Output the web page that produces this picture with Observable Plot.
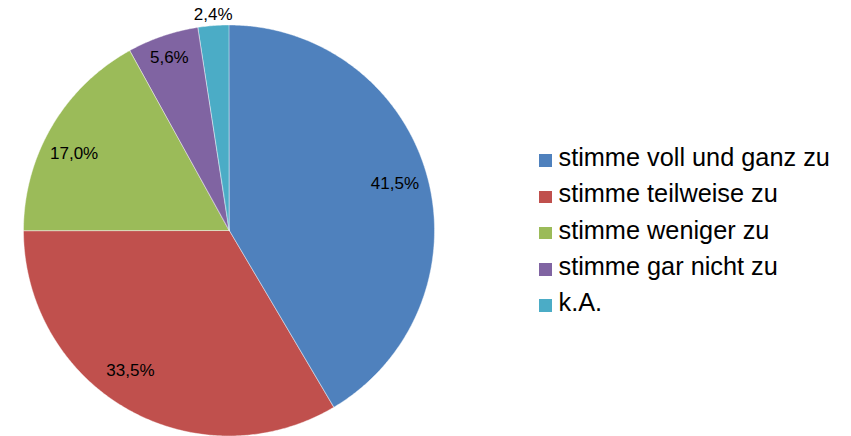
<!DOCTYPE html>
<html>
<head>
<meta charset="utf-8">
<script src="https://cdn.jsdelivr.net/npm/d3@7"></script>
<script src="https://cdn.jsdelivr.net/npm/@observablehq/plot@0.6"></script>
<style>
  html, body { margin: 0; padding: 0; background: #fff; }
  #wrap { position: relative; width: 851px; height: 436px; overflow: hidden; font-family: "Liberation Sans", Arial, sans-serif; }
  #legend { position: absolute; left: 539px; top: 139.6px; }
  .item { display: flex; align-items: center; height: 36.25px; font-size: 25.3px; color: #000; white-space: nowrap; }
  .sw { width: 12.5px; height: 12.5px; margin-right: 7px; margin-top: 6px; flex: none; }
</style>
</head>
<body>
<div id="wrap"><div id="legend"></div></div>
<script>
const categories = ["stimme voll und ganz zu", "stimme teilweise zu", "stimme weniger zu", "stimme gar nicht zu", "k.A."];
const values = [41.5, 33.5, 17.0, 5.6, 2.4];
const colors = ["#4F81BD", "#C0504D", "#9BBB59", "#8064A2", "#4BACC6"];
// label placement (fraction of radius and angular nudge in degrees), like Excel's best-fit labels
const labelRadius = [0.837, 0.832, 0.845, 0.894, 1.055];
const labelTurn = [-0.6, 5.7, -4.1, -0.4, 0];

const data = categories.map((c, i) => ({category: c, value: values[i]}));
const arcs = d3.pie().sort(null).value(d => d.value).startAngle(0).endAngle(2 * Math.PI)(data);

// outline points of each wedge (on unit circle), center as baseline
const outline = arcs.flatMap(a => {
  const n = Math.max(2, Math.ceil((a.endAngle - a.startAngle) / (Math.PI / 360)));
  return d3.range(n + 1).map(k => {
    const t = a.startAngle + (a.endAngle - a.startAngle) * k / n;
    return {category: a.data.category, x: Math.sin(t), y: Math.cos(t)};
  });
});

const fmt = d3.formatLocale({decimal: ",", thousands: ".", grouping: [3], currency: ["", "€"]}).format(".1f");
const labels = arcs.map((a, i) => {
  const t = (a.startAngle + a.endAngle) / 2 + labelTurn[i] * Math.PI / 180;
  return {x: labelRadius[i] * Math.sin(t), y: labelRadius[i] * Math.cos(t), text: fmt(a.data.value) + "%"};
});

const chart = Plot.plot({
  width: 851,
  height: 436,
  marginLeft: 23.5,
  marginRight: 416.5,
  marginTop: 25,
  marginBottom: 0,
  x: {domain: [-1, 1], axis: null},
  y: {domain: [-1, 1], axis: null},
  color: {domain: categories, range: colors},
  style: {fontFamily: "'Liberation Sans', Arial, sans-serif", background: "#fff", overflow: "visible"},
  marks: [
    Plot.area(outline, {x1: "x", y1: "y", x2: 0, y2: 0, z: "category", fill: "category", stroke: "#fff", strokeWidth: 0.6, strokeOpacity: 0.7}),
    Plot.text(labels, {x: "x", y: "y", text: "text", fontSize: 17, fill: "#000"})
  ]
});
document.getElementById("wrap").prepend(chart);
chart.style.position = "absolute";
chart.style.left = "0";
chart.style.top = "0";

const legend = d3.select("#legend");
categories.forEach((c, i) => {
  const row = legend.append("div").attr("class", "item");
  row.append("div").attr("class", "sw").style("background", colors[i]);
  row.append("span").text(c);
});
</script>
</body>
</html>
